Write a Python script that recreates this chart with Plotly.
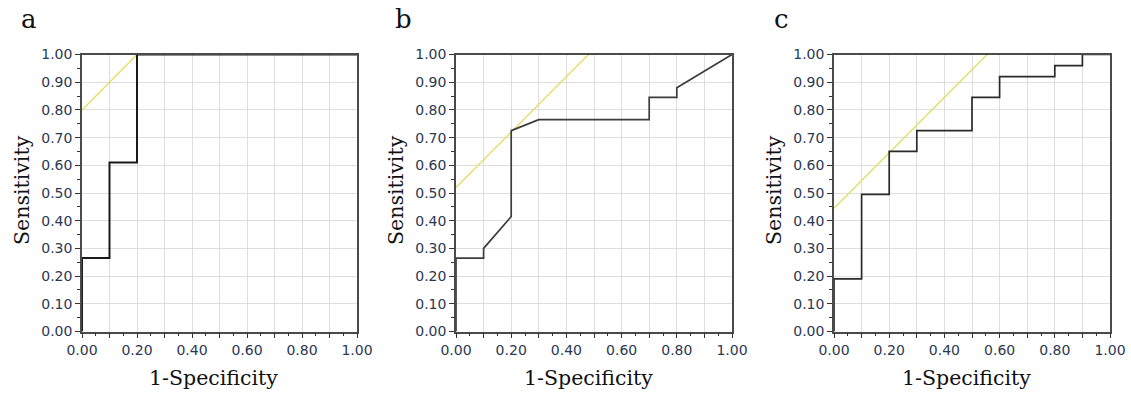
import plotly.graph_objects as go

# Panel a ROC curve
a_fpr = [0.0, 0.0, 0.1, 0.1, 0.2, 0.2, 1.0]
a_tpr = [0.0, 0.265, 0.265, 0.61, 0.61, 1.0, 1.0]
a_ref_x = [0.0, 0.2]
a_ref_y = [0.80, 1.0]

# Panel b ROC curve
b_fpr = [0.0, 0.0, 0.1, 0.1, 0.2, 0.2, 0.3, 0.7, 0.7, 0.8, 0.8, 1.0]
b_tpr = [0.0, 0.265, 0.265, 0.30, 0.415, 0.725, 0.765, 0.765, 0.845, 0.845, 0.88, 1.0]
b_ref_x = [0.0, 0.48]
b_ref_y = [0.52, 1.0]

# Panel c ROC curve
c_fpr = [0.0, 0.0, 0.1, 0.1, 0.2, 0.2, 0.3, 0.3, 0.5, 0.5, 0.6, 0.6, 0.8, 0.8, 0.9, 0.9, 1.0]
c_tpr = [0.0, 0.19, 0.19, 0.495, 0.495, 0.65, 0.65, 0.725, 0.725, 0.845, 0.845, 0.92, 0.92, 0.96, 0.96, 1.0, 1.0]
c_ref_x = [0.0, 0.555]
c_ref_y = [0.445, 1.0]

panel_labels = ["a", "b", "c"]
x_title = "1-Specificity"
y_title = "Sensitivity"
tick_vals = [0.0, 0.1, 0.2, 0.3, 0.4, 0.5, 0.6, 0.7, 0.8, 0.9, 1.0]
y_tick_text = ["0.00", "0.10", "0.20", "0.30", "0.40", "0.50", "0.60", "0.70", "0.80", "0.90", "1.00"]
x_tick_text = ["0.00", "", "0.20", "", "0.40", "", "0.60", "", "0.80", "", "1.00"]

W, H = 1131, 394
x_domains_px = [(82, 357), (456, 732), (834, 1110)]
y_domain_px = (54.5, 331.5)

panels = [
    (a_fpr, a_tpr, a_ref_x, a_ref_y, "#1a1a1a", 2.0),
    (b_fpr, b_tpr, b_ref_x, b_ref_y, "#3c3c3c", 1.7),
    (c_fpr, c_tpr, c_ref_x, c_ref_y, "#2a2a2a", 1.7),
]

fig = go.Figure()
tick_font = dict(family="DejaVu Sans, Verdana, sans-serif", size=14, color="#2c3852")
serif = "DejaVu Serif, Liberation Serif, serif"

for i, (fx, fy, rx, ry, col, lw) in enumerate(panels):
    n = "" if i == 0 else str(i + 1)
    fig.add_trace(go.Scatter(x=rx, y=ry, mode="lines", xaxis="x" + n, yaxis="y" + n,
                             line=dict(color="#e6dc6a", width=1.4), showlegend=False, hoverinfo="skip"))
    fig.add_trace(go.Scatter(x=fx, y=fy, mode="lines", xaxis="x" + n, yaxis="y" + n,
                             line=dict(color=col, width=lw), showlegend=False))
    d0, d1 = x_domains_px[i]
    xdom = [d0 / W, d1 / W]
    ydom = [1 - y_domain_px[1] / H, 1 - y_domain_px[0] / H]
    common = dict(range=[0, 1], showline=True, mirror=True, linecolor="#4a4a4a", linewidth=1.5,
                  showgrid=True, gridcolor="#dedede", gridwidth=1.3, zeroline=False,
                  ticks="outside", ticklen=5, tickwidth=1.3, tickcolor="#333",
                  tickvals=tick_vals, tickfont=tick_font, automargin=False,
                  minor=dict(dtick=0.05, tick0=0, ticks="outside", ticklen=3, tickwidth=1.2,
                             tickcolor="#333", showgrid=False),
                  fixedrange=True)
    fig.update_layout(**{
        "xaxis" + n: dict(domain=xdom, anchor="y" + n, ticktext=x_tick_text, **common),
        "yaxis" + n: dict(domain=ydom, anchor="x" + n, ticktext=y_tick_text, **common),
    })
    cx = (d0 + d1) / 2 / W
    fig.add_annotation(x=cx - 6 / W, y=1 - 378 / H, xref="paper", yref="paper", text=x_title,
                       showarrow=False, font=dict(family=serif, size=20.5, color="#111"),
                       xanchor="center", yanchor="middle")
    fig.add_annotation(x=(d0 - 60) / W, y=1 - 190 / H, xref="paper", yref="paper", text=y_title,
                       showarrow=False, textangle=-90, font=dict(family=serif, size=20.5, color="#111"),
                       xanchor="center", yanchor="middle")
    fig.add_annotation(x=(d0 - 53) / W, y=1 - 19 / H, xref="paper", yref="paper", text=panel_labels[i],
                       showarrow=False, font=dict(family=serif, size=26, color="#111"),
                       xanchor="center", yanchor="middle")

fig.update_layout(width=W, height=H, margin=dict(l=0, r=0, t=0, b=0, pad=0),
                  paper_bgcolor="white", plot_bgcolor="white")
fig.write_html("out.html", config={"displayModeBar": False},
               post_script="document.body.style.margin='0px';document.body.style.overflow='hidden';")
